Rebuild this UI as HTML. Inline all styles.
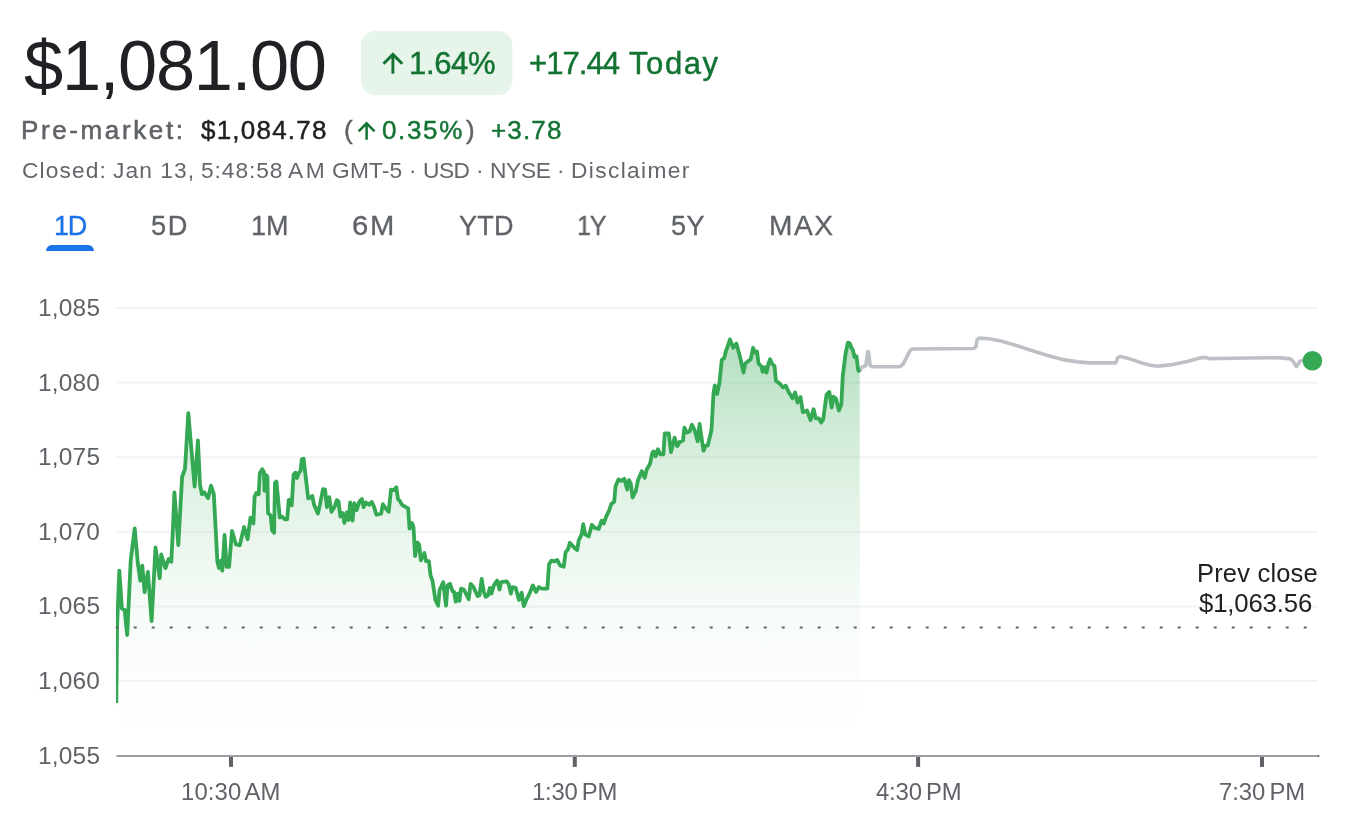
<!DOCTYPE html>
<html lang="en">
<head>
<meta charset="utf-8">
<title>Stock chart</title>
<style>
html,body{margin:0;padding:0;background:#fff;}
body{width:1372px;height:832px;position:relative;overflow:hidden;font-family:"Liberation Sans",Arial,sans-serif;}
.t{position:absolute;white-space:nowrap;line-height:1;transform-origin:0 0;will-change:transform;}
#chart{position:absolute;left:0;top:0;}
</style>
</head>
<body>
<svg id="chart" width="1372" height="832" viewBox="0 0 1372 832">
<defs>
<linearGradient id="gf" x1="0" y1="337" x2="0" y2="756" gradientUnits="userSpaceOnUse">
<stop offset="0" stop-color="#34a853" stop-opacity="0.38"/>
<stop offset="1" stop-color="#ffffff" stop-opacity="0"/>
</linearGradient>
<clipPath id="cp"><rect x="116" y="280" width="1215" height="480"/></clipPath>
</defs>
<!-- tab underline -->
<path d="M46 251 a6 6 0 0 1 6 -6 h36 a6 6 0 0 1 6 6 z" fill="#1a73e8"/>
<rect x="361" y="31" width="151.3" height="64" rx="14" ry="14" fill="#e6f4ea"/>
<!-- arrows -->
<g fill="none" stroke="#137333" stroke-width="2.9" stroke-linecap="butt" stroke-linejoin="miter">
<path d="M392.9 73.8 V54.5 M383.5 63.8 L392.9 54.4 L402.3 63.8"/>
</g>
<g fill="none" stroke="#137333" stroke-width="2.5">
<path d="M366.6 139.7 V123.5 M358.6 131.3 L366.6 123.3 L374.6 131.3"/>
</g>
<!-- gridlines -->
<g stroke="#f2f3f5" stroke-width="2">
<path d="M116 308 H1318 M116 382.6 H1318 M116 457.2 H1318 M116 531.8 H1318 M116 606.4 H1318 M116 681 H1318"/>
</g>
<!-- CHARTDATA -->
<path d="M116.3,755 L116.3,703.1 117.1,626.0 119.3,570.7 121.9,608.5 124.6,609.8 127.2,635.0 130.7,560.6 134.7,528.5 137.8,563.1 140.3,580.7 142.3,565.6 144.6,592.1 147.9,571.9 151.6,621.1 155.5,547.5 159.7,578.2 161.2,554.5 165.5,568.1 168.6,559.0 171.3,561.8 173.1,525.0 174.4,492.3 178.3,545.2 182.1,476.9 185.0,469.2 188.3,413.1 194.6,486.5 197.9,440.4 200.0,484.6 201.9,494.2 204.2,492.3 208.1,498.1 211.0,485.6 213.8,494.2 217.4,562.0 219.0,568.1 221.0,560.6 222.3,570.7 224.6,535.0 226.6,566.9 229.1,566.9 232.0,531.0 236.0,544.5 239.8,545.3 244.1,527.0 247.6,539.2 250.5,517.6 253.4,523.5 254.6,496.6 256.3,493.1 258.7,494.3 259.8,473.3 262.2,469.2 263.9,472.2 264.5,490.8 266.2,475.1 267.4,476.8 268.0,513.0 270.6,515.3 272.1,530.5 274.1,532.8 275.0,482.7 276.4,481.5 277.9,496.6 279.7,517.6 282.0,516.5 284.9,519.4 287.2,519.4 288.7,500.1 290.4,499.6 291.7,505.4 293.6,474.5 295.4,472.7 296.9,478.0 298.9,472.7 300.6,471.0 301.8,459.3 303.6,458.7 305.3,473.3 308.2,498.4 310.0,497.8 312.3,496.1 314.1,504.8 317.9,513.6 319.9,504.8 323.0,489.1 325.1,489.7 326.9,507.1 329.2,497.2 331.5,511.8 334.5,507.1 336.8,500.1 338.5,501.3 340.3,516.5 342.6,513.0 344.4,522.9 346.7,512.4 348.5,520.0 350.2,502.5 352.5,520.6 354.3,503.1 356.6,510.1 359.5,501.3 361.9,499.0 363.6,507.1 365.9,502.5 368.9,504.8 371.8,501.9 374.1,507.1 376.4,514.7 381.1,513.6 382.9,504.2 385.2,507.7 388.7,511.8 391.0,489.7 393.9,490.2 396.3,487.3 398.0,499.0 400.0,501.3 402.2,505.1 405.4,506.8 408.2,508.4 409.5,528.7 411.9,523.0 413.5,527.0 415.1,556.2 417.6,542.5 419.2,544.9 420.8,560.3 424.4,553.0 426.0,561.1 428.9,561.1 430.6,575.7 432.5,580.6 435.4,600.0 438.2,605.7 439.5,590.3 443.2,582.2 446.0,605.7 447.6,585.4 450.0,583.8 452.5,591.1 454.1,591.9 455.7,601.7 457.8,593.6 459.4,600.9 461.0,588.7 463.8,589.5 468.7,599.2 470.6,583.8 473.5,587.1 477.6,596.0 479.5,595.2 481.7,579.0 483.8,591.9 485.7,596.8 488.1,595.2 489.8,587.9 491.4,593.6 493.8,585.4 497.1,580.6 499.5,589.5 501.1,582.2 506.8,581.4 508.8,584.6 510.9,593.6 512.5,587.1 515.7,587.9 519.0,600.0 521.7,592.7 523.8,606.2 526.3,600.0 529.5,593.6 532.8,585.4 536.0,591.9 538.9,587.1 541.7,588.7 547.4,588.7 549.0,564.4 551.4,560.6 554.5,561.4 557.2,559.9 560.1,565.5 563.7,566.7 565.6,552.3 568.0,549.4 569.8,542.9 573.1,546.5 577.1,550.1 578.8,540.1 581.7,534.3 583.2,524.2 585.3,534.3 588.7,536.4 591.8,524.9 594.7,527.8 598.8,528.9 601.6,520.6 603.7,523.5 606.3,516.3 609.1,510.5 611.3,504.0 614.2,501.8 615.6,486.0 618.5,479.5 621.4,480.9 624.3,478.8 627.2,489.6 629.0,480.2 630.8,483.8 632.6,497.5 635.8,491.0 638.0,480.2 641.8,471.2 644.7,477.7 646.6,469.8 650.1,463.7 652.3,452.8 653.7,451.4 655.6,456.4 658.0,449.2 660.2,454.3 663.4,454.3 664.8,433.4 668.8,433.4 671.0,452.1 674.6,437.7 677.2,446.3 679.7,442.0 683.0,440.6 684.4,427.6 686.9,432.6 689.8,431.2 691.9,424.7 694.5,429.8 697.7,441.3 699.6,424.0 701.3,436.3 703.5,450.7 705.6,445.6 707.8,445.6 711.5,430.0 713.5,393.5 714.8,385.5 717.1,394.0 719.4,383.0 721.8,359.9 724.2,358.1 726.0,350.8 727.8,346.0 730.0,339.4 733.2,347.8 736.3,343.6 739.9,356.3 743.5,372.5 745.3,363.5 750.7,359.3 753.1,347.8 754.9,352.6 757.0,351.4 758.5,363.5 761.5,366.5 762.7,371.9 764.5,367.1 766.5,372.5 768.5,363.5 770.1,359.3 772.3,364.1 774.5,365.9 775.9,380.9 779.5,383.3 783.1,387.5 785.8,385.7 788.5,391.7 792.5,398.3 795.1,392.4 797.5,402.6 800.5,396.9 802.9,412.2 807.0,410.5 810.6,420.1 813.6,409.3 815.7,418.3 819.0,418.3 821.2,422.5 823.2,419.5 826.5,394.9 829.3,391.9 831.7,407.5 833.5,396.7 835.9,398.5 838.9,410.5 841.3,404.5 842.8,375.7 845.5,354.0 847.9,342.6 849.7,343.2 851.5,348.0 852.9,349.8 854.5,357.0 856.5,356.4 858.1,369.7 859.7,372.1 L859.9,755 Z" fill="url(#gf)"/>
<polyline points="859.7,371.0 861.7,367.3 865.9,365.5 867.7,351.6 868.6,352.2 870.1,365.5 871.9,366.7 900.1,366.6 903.5,363.6 909.3,351.9 911.0,349.8 912.7,349.0 973.9,348.5 975.9,346.8 977.2,339.3 979.7,338.1 989.0,338.8 1000.7,341.0 1014.1,344.8 1030.9,350.2 1047.6,355.5 1064.4,359.9 1077.8,361.9 1089.6,362.9 1115.9,362.9 1117.6,357.7 1120.1,356.5 1126.8,357.9 1138.6,361.9 1150.3,365.3 1157.8,366.1 1170.4,364.9 1187.2,361.6 1200.6,357.7 1205.6,357.4 1209.0,358.6 1234.1,358.2 1267.6,357.7 1281.1,357.9 1290.3,358.9 1292.8,361.1 1296.5,366.6 1300.3,361.1 1302.9,360.2 1312.0,360.6" fill="none" stroke="#bdc1c6" stroke-width="3.6" stroke-linejoin="round" stroke-linecap="round"/>
<polyline points="116.3,703.1 117.1,626.0 119.3,570.7 121.9,608.5 124.6,609.8 127.2,635.0 130.7,560.6 134.7,528.5 137.8,563.1 140.3,580.7 142.3,565.6 144.6,592.1 147.9,571.9 151.6,621.1 155.5,547.5 159.7,578.2 161.2,554.5 165.5,568.1 168.6,559.0 171.3,561.8 173.1,525.0 174.4,492.3 178.3,545.2 182.1,476.9 185.0,469.2 188.3,413.1 194.6,486.5 197.9,440.4 200.0,484.6 201.9,494.2 204.2,492.3 208.1,498.1 211.0,485.6 213.8,494.2 217.4,562.0 219.0,568.1 221.0,560.6 222.3,570.7 224.6,535.0 226.6,566.9 229.1,566.9 232.0,531.0 236.0,544.5 239.8,545.3 244.1,527.0 247.6,539.2 250.5,517.6 253.4,523.5 254.6,496.6 256.3,493.1 258.7,494.3 259.8,473.3 262.2,469.2 263.9,472.2 264.5,490.8 266.2,475.1 267.4,476.8 268.0,513.0 270.6,515.3 272.1,530.5 274.1,532.8 275.0,482.7 276.4,481.5 277.9,496.6 279.7,517.6 282.0,516.5 284.9,519.4 287.2,519.4 288.7,500.1 290.4,499.6 291.7,505.4 293.6,474.5 295.4,472.7 296.9,478.0 298.9,472.7 300.6,471.0 301.8,459.3 303.6,458.7 305.3,473.3 308.2,498.4 310.0,497.8 312.3,496.1 314.1,504.8 317.9,513.6 319.9,504.8 323.0,489.1 325.1,489.7 326.9,507.1 329.2,497.2 331.5,511.8 334.5,507.1 336.8,500.1 338.5,501.3 340.3,516.5 342.6,513.0 344.4,522.9 346.7,512.4 348.5,520.0 350.2,502.5 352.5,520.6 354.3,503.1 356.6,510.1 359.5,501.3 361.9,499.0 363.6,507.1 365.9,502.5 368.9,504.8 371.8,501.9 374.1,507.1 376.4,514.7 381.1,513.6 382.9,504.2 385.2,507.7 388.7,511.8 391.0,489.7 393.9,490.2 396.3,487.3 398.0,499.0 400.0,501.3 402.2,505.1 405.4,506.8 408.2,508.4 409.5,528.7 411.9,523.0 413.5,527.0 415.1,556.2 417.6,542.5 419.2,544.9 420.8,560.3 424.4,553.0 426.0,561.1 428.9,561.1 430.6,575.7 432.5,580.6 435.4,600.0 438.2,605.7 439.5,590.3 443.2,582.2 446.0,605.7 447.6,585.4 450.0,583.8 452.5,591.1 454.1,591.9 455.7,601.7 457.8,593.6 459.4,600.9 461.0,588.7 463.8,589.5 468.7,599.2 470.6,583.8 473.5,587.1 477.6,596.0 479.5,595.2 481.7,579.0 483.8,591.9 485.7,596.8 488.1,595.2 489.8,587.9 491.4,593.6 493.8,585.4 497.1,580.6 499.5,589.5 501.1,582.2 506.8,581.4 508.8,584.6 510.9,593.6 512.5,587.1 515.7,587.9 519.0,600.0 521.7,592.7 523.8,606.2 526.3,600.0 529.5,593.6 532.8,585.4 536.0,591.9 538.9,587.1 541.7,588.7 547.4,588.7 549.0,564.4 551.4,560.6 554.5,561.4 557.2,559.9 560.1,565.5 563.7,566.7 565.6,552.3 568.0,549.4 569.8,542.9 573.1,546.5 577.1,550.1 578.8,540.1 581.7,534.3 583.2,524.2 585.3,534.3 588.7,536.4 591.8,524.9 594.7,527.8 598.8,528.9 601.6,520.6 603.7,523.5 606.3,516.3 609.1,510.5 611.3,504.0 614.2,501.8 615.6,486.0 618.5,479.5 621.4,480.9 624.3,478.8 627.2,489.6 629.0,480.2 630.8,483.8 632.6,497.5 635.8,491.0 638.0,480.2 641.8,471.2 644.7,477.7 646.6,469.8 650.1,463.7 652.3,452.8 653.7,451.4 655.6,456.4 658.0,449.2 660.2,454.3 663.4,454.3 664.8,433.4 668.8,433.4 671.0,452.1 674.6,437.7 677.2,446.3 679.7,442.0 683.0,440.6 684.4,427.6 686.9,432.6 689.8,431.2 691.9,424.7 694.5,429.8 697.7,441.3 699.6,424.0 701.3,436.3 703.5,450.7 705.6,445.6 707.8,445.6 711.5,430.0 713.5,393.5 714.8,385.5 717.1,394.0 719.4,383.0 721.8,359.9 724.2,358.1 726.0,350.8 727.8,346.0 730.0,339.4 733.2,347.8 736.3,343.6 739.9,356.3 743.5,372.5 745.3,363.5 750.7,359.3 753.1,347.8 754.9,352.6 757.0,351.4 758.5,363.5 761.5,366.5 762.7,371.9 764.5,367.1 766.5,372.5 768.5,363.5 770.1,359.3 772.3,364.1 774.5,365.9 775.9,380.9 779.5,383.3 783.1,387.5 785.8,385.7 788.5,391.7 792.5,398.3 795.1,392.4 797.5,402.6 800.5,396.9 802.9,412.2 807.0,410.5 810.6,420.1 813.6,409.3 815.7,418.3 819.0,418.3 821.2,422.5 823.2,419.5 826.5,394.9 829.3,391.9 831.7,407.5 833.5,396.7 835.9,398.5 838.9,410.5 841.3,404.5 842.8,375.7 845.5,354.0 847.9,342.6 849.7,343.2 851.5,348.0 852.9,349.8 854.5,357.0 856.5,356.4 858.1,369.7 859.7,372.1" clip-path="url(#cp)" fill="none" stroke="#34a853" stroke-width="3.8" stroke-linejoin="round" stroke-linecap="butt"/>
<!-- /CHARTDATA -->
<!-- axis -->
<rect x="116.4" y="755" width="1202.6" height="2" fill="#9aa0a6"/>
<rect x="1317.8" y="755" width="1.4" height="2" fill="#5f6368"/>
<g fill="#5f6368">
<rect x="229" y="757" width="4" height="9.9"/>
<rect x="572.8" y="757" width="4" height="9.9"/>
<rect x="916.1" y="757" width="4" height="9.9"/>
<rect x="1260" y="757" width="4" height="9.9"/>
</g>
<!-- prev close dotted -->
<path d="M115.7 627.4 H1307" stroke="#5f6368" stroke-width="2" stroke-dasharray="3 15"/>
<circle cx="1312.4" cy="360.7" r="9.8" fill="#34a853"/>
</svg>
<!-- TEXT -->
<div class="t" id="price" style="left:24.2px;top:31.2px;font-size:70.4px;color:#202124;letter-spacing:-1.27px;">$1,081.00</div>
<div class="t" id="pct" style="left:409.1px;top:47.5px;font-size:31px;color:#137333;letter-spacing:-0.34px;-webkit-text-stroke:0.45px #137333;">1.64%</div>
<div class="grp" id="today">
<span class="t" id="td1" style="left:528.5px;top:47.5px;font-size:31px;color:#137333;letter-spacing:-0.95px;-webkit-text-stroke:0.45px #137333;">+17.44</span>
<span class="t" id="td2" style="left:629.4px;top:47.5px;font-size:31px;color:#137333;letter-spacing:1.59px;-webkit-text-stroke:0.45px #137333;">Today</span>
</div>
<div class="t" id="pm" style="left:21.3px;top:117.3px;font-size:26.03px;color:#5f6368;letter-spacing:2.61px;-webkit-text-stroke:0.55px #5f6368;">Pre-market:</div>
<div class="t" id="pmp" style="left:200.6px;top:117.3px;font-size:26.03px;color:#202124;letter-spacing:1.21px;-webkit-text-stroke:0.45px #202124;">$1,084.78</div>
<div class="t" id="lp" style="left:343.7px;top:117.3px;font-size:26.03px;color:#5f6368;-webkit-text-stroke:0.45px #5f6368;">(</div>
<div class="t" id="pmpct" style="left:382px;top:117.3px;font-size:26.03px;color:#137333;letter-spacing:1.65px;-webkit-text-stroke:0.45px #137333;">0.35%</div>
<div class="t" id="rp" style="left:465.5px;top:117.3px;font-size:26.03px;color:#5f6368;-webkit-text-stroke:0.45px #5f6368;">)</div>
<div class="t" id="pmchg" style="left:490.6px;top:117.3px;font-size:26.03px;color:#137333;letter-spacing:1.16px;-webkit-text-stroke:0.45px #137333;">+3.78</div>
<div class="grp" id="closed">
<span class="t" id="c1" style="left:22.3px;top:159px;font-size:22.76px;color:#63676c;letter-spacing:1.13px;">Closed:</span>
<span class="t" id="c2" style="left:112.7px;top:159px;font-size:22.76px;color:#63676c;letter-spacing:1.06px;">Jan 13,</span>
<span class="t" id="c3" style="left:200.9px;top:159px;font-size:22.76px;color:#63676c;letter-spacing:0.92px;">5:48:58</span>
<span class="t" id="c4" style="left:287.9px;top:159px;font-size:22.76px;color:#63676c;letter-spacing:2.62px;">AM</span>
<span class="t" id="c5" style="left:331.9px;top:159px;font-size:22.76px;color:#63676c;letter-spacing:0.18px;">GMT-5</span>
<span class="t" id="c6" style="left:408.8px;top:159px;font-size:22.76px;color:#63676c;">·</span>
<span class="t" id="c7" style="left:422.6px;top:159px;font-size:22.76px;color:#63676c;letter-spacing:-0.55px;">USD</span>
<span class="t" id="c8" style="left:476.3px;top:159px;font-size:22.76px;color:#63676c;">·</span>
<span class="t" id="c9" style="left:490.2px;top:159px;font-size:22.76px;color:#63676c;letter-spacing:-0.33px;">NYSE</span>
<span class="t" id="c10" style="left:556.9px;top:159px;font-size:22.76px;color:#63676c;">·</span>
<span class="t" id="c11" style="left:571.2px;top:159px;font-size:22.76px;color:#63676c;letter-spacing:1.36px;">Disclaimer</span>
</div>
<div class="grp" id="tabs">
<span class="t" id="t1" style="left:53.5px;top:212.8px;font-size:27.02px;color:#1a73e8;letter-spacing:-1.2px;transform:scaleX(0.9864);-webkit-text-stroke:0.3px #1a73e8;">1D</span>
<span class="t" id="t2" style="left:150.9px;top:212.8px;font-size:27.02px;color:#5f6368;letter-spacing:1.5px;transform:scaleX(1.007);-webkit-text-stroke:0.3px #5f6368;">5D</span>
<span class="t" id="t3" style="left:250.9px;top:212.8px;font-size:27.02px;color:#5f6368;letter-spacing:0.07px;-webkit-text-stroke:0.3px #5f6368;">1M</span>
<span class="t" id="t4" style="left:352.2px;top:212.8px;font-size:27.02px;color:#5f6368;letter-spacing:1.5px;transform:scaleX(1.082);-webkit-text-stroke:0.3px #5f6368;">6M</span>
<span class="t" id="t5" style="left:458.6px;top:212.8px;font-size:27.02px;color:#5f6368;letter-spacing:0.21px;-webkit-text-stroke:0.3px #5f6368;">YTD</span>
<span class="t" id="t6" style="left:576.8px;top:212.8px;font-size:27.02px;color:#5f6368;letter-spacing:-1.2px;transform:scaleX(0.9273);-webkit-text-stroke:0.3px #5f6368;">1Y</span>
<span class="t" id="t7" style="left:671.1px;top:212.8px;font-size:27.02px;color:#5f6368;letter-spacing:0.48px;-webkit-text-stroke:0.3px #5f6368;">5Y</span>
<span class="t" id="t8" style="left:768.8px;top:212.8px;font-size:27.02px;color:#5f6368;letter-spacing:1.5px;transform:scaleX(1.0413);-webkit-text-stroke:0.3px #5f6368;">MAX</span>
</div>
<div class="grp" id="yaxis">
<span class="t" id="y1" style="left:37.6px;top:295.9px;font-size:24.46px;color:#5f6368;letter-spacing:0.2px;">1,085</span>
<span class="t" id="y2" style="left:37.6px;top:370.5px;font-size:24.46px;color:#5f6368;letter-spacing:0.17px;">1,080</span>
<span class="t" id="y3" style="left:37.6px;top:445.1px;font-size:24.46px;color:#5f6368;letter-spacing:0.2px;">1,075</span>
<span class="t" id="y4" style="left:37.6px;top:519.7px;font-size:24.46px;color:#5f6368;letter-spacing:0.17px;">1,070</span>
<span class="t" id="y5" style="left:37.6px;top:594.3px;font-size:24.46px;color:#5f6368;letter-spacing:0.2px;">1,065</span>
<span class="t" id="y6" style="left:37.6px;top:668.9px;font-size:24.46px;color:#5f6368;letter-spacing:0.17px;">1,060</span>
<span class="t" id="y7" style="left:37.6px;top:743.5px;font-size:24.46px;color:#5f6368;letter-spacing:0.2px;">1,055</span>
</div>
<div class="grp" id="xaxis">
<span class="t" id="x1" style="left:180.7px;top:779.8px;font-size:23.89px;color:#5f6368;letter-spacing:0.11px;word-spacing:-2.2px;">10:30 AM</span>
<span class="t" id="x2" style="left:532px;top:779.8px;font-size:23.89px;color:#5f6368;letter-spacing:-0.23px;word-spacing:-2.2px;">1:30 PM</span>
<span class="t" id="x3" style="left:875.5px;top:779.8px;font-size:23.89px;color:#5f6368;letter-spacing:-0.18px;word-spacing:-2.2px;">4:30 PM</span>
<span class="t" id="x4" style="left:1218.7px;top:779.8px;font-size:23.89px;color:#5f6368;letter-spacing:-0.08px;word-spacing:-2.2px;">7:30 PM</span>
</div>
<div class="grp" id="prev">
<span class="t" id="pc1" style="left:1196.7px;top:561.2px;font-size:25.46px;color:#202124;letter-spacing:0.21px;">Prev close</span>
<span class="t" id="pc2" style="left:1198.7px;top:590.9px;font-size:25.74px;color:#202124;letter-spacing:-0.16px;">$1,063.56</span>
</div>
<!-- /TEXT -->
</body>
</html>
